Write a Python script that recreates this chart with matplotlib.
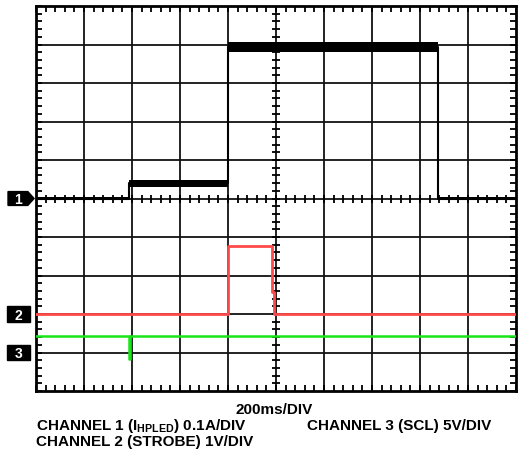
import matplotlib
matplotlib.use("Agg")
import matplotlib.pyplot as plt
import numpy as np
from matplotlib.patches import Polygon

plt.rcParams['font.family'] = ['Liberation Sans', 'DejaVu Sans']
plt.rcParams['mathtext.fontset'] = 'custom'
plt.rcParams['mathtext.rm'] = 'Liberation Sans:bold'
plt.rcParams['mathtext.bf'] = 'Liberation Sans:bold'

# time base: 200ms/div, 10 divisions
ms_per_div = 200.0

# channel 1: HPLED current (A), 0.1 A/div, ground at 0 div
ch1_t = [0, 388, 800, 1675, 2000]
ch1_i = [0.0, 0.039, 0.394, 0.0]
ch1_noise = [0.004, 0.008, 0.013, 0.005]   # half width of the noise band (A)

# channel 2: STROBE (V), 1 V/div, ground at -3 div
ch2_t = [0, 800, 982, 990, 2000]
ch2_v = [0.0, 1.77, 0.57, 0.0, 0.0]

# channel 3: SCL (V), 5 V/div, ground at -4 div
ch3_t = [0, 387, 390, 2000]
ch3_v = [2.08, -0.9, 2.08, 2.08]

scales = {1: 0.1, 2: 1.0, 3: 5.0}
grounds = {1: 0.0, 2: -3.0, 3: -4.0}


def to_div(ch, vals):
    return np.asarray(vals) / scales[ch] + grounds[ch]


fig = plt.figure(figsize=(5.29, 4.56), dpi=100)
ax = fig.add_axes([36 / 529, 1 - 392 / 456, 480 / 529, 385 / 456])
ax.set_xlim(0, 10)
ax.set_ylim(-5, 5)

# graticule
for x in range(1, 10):
    ax.axvline(x, color='#111111', lw=1.3, zorder=1)
for y in range(-4, 5):
    ax.axhline(y, color='#111111', lw=1.3, zorder=1)
for s in ax.spines.values():
    s.set_linewidth(2.0)

ax.set_xticks(np.arange(0, 10.01, 0.2), minor=True)
ax.set_yticks(np.arange(-5, 5.01, 0.2), minor=True)
ax.set_xticks([])
ax.set_yticks([])
ax.tick_params(which='minor', direction='in', length=4, width=1.3,
               top=True, right=True, labelbottom=False, labelleft=False)

# ticks on the centre cross
mx = np.arange(0.2, 10, 0.2)
my = np.arange(-4.8, 5, 0.2)
ax.plot(mx, np.zeros_like(mx), ls='none', marker='|', ms=6, mew=1.3, color='black', zorder=2)
ax.plot(np.full_like(my, 5), my, ls='none', marker='_', ms=6, mew=1.3, color='black', zorder=2)

# channel 1
t1 = np.array(ch1_t) / ms_per_div
y1 = to_div(1, ch1_i + [ch1_i[-1]])
n1 = np.array(ch1_noise + [ch1_noise[-1]]) / scales[1]
ax.fill_between(t1, y1 - n1, y1 + n1, step='post', color='black', lw=0, zorder=3)
ax.step(t1, y1, where='post', color='black', lw=1.5, zorder=3)

# channel 2
t2 = np.array(ch2_t) / ms_per_div
ax.step(t2, to_div(2, ch2_v), where='post', color='#ff4a4a', lw=2.0, zorder=4)

# channel 3
t3 = np.array(ch3_t) / ms_per_div
ax.step(t3, to_div(3, ch3_v), where='post', color='#19e619', lw=1.8, zorder=4)

# channel markers
def marker(ch, arrow=False):
    g = grounds[ch]
    h = 0.18
    if arrow:
        pts = [(-0.583, g - h), (-0.17, g - h), (-0.04, g), (-0.17, g + h), (-0.583, g + h)]
    else:
        pts = [(-0.6, g - h - 0.02), (-0.125, g - h - 0.02), (-0.125, g + h + 0.02), (-0.6, g + h + 0.02)]
    ax.add_patch(Polygon(pts, closed=True, color='black', clip_on=False, zorder=5))
    ax.text(-0.37, g - 0.02, str(ch), color='white', fontsize=10, fontweight='bold',
            ha='center', va='center', clip_on=False, zorder=6)

marker(1, arrow=True)
marker(2)
marker(3)

# captions
fs = 11
fig.text(274 / 529, 1 - 414 / 456, '200ms/DIV', ha='center', va='baseline',
         fontsize=fs, fontweight='bold')
fig.text(36 / 529, 1 - 430 / 456, r'CHANNEL 1 (I$_{\mathrm{HPLED}}$) 0.1A/DIV',
         ha='left', va='baseline', fontsize=fs, fontweight='bold')
fig.text(307 / 529, 1 - 430 / 456, 'CHANNEL 3 (SCL) 5V/DIV', ha='left', va='baseline',
         fontsize=fs, fontweight='bold')
fig.text(36 / 529, 1 - 446 / 456, 'CHANNEL 2 (STROBE) 1V/DIV', ha='left', va='baseline',
         fontsize=fs, fontweight='bold')

fig.savefig('out.png', dpi=100)
